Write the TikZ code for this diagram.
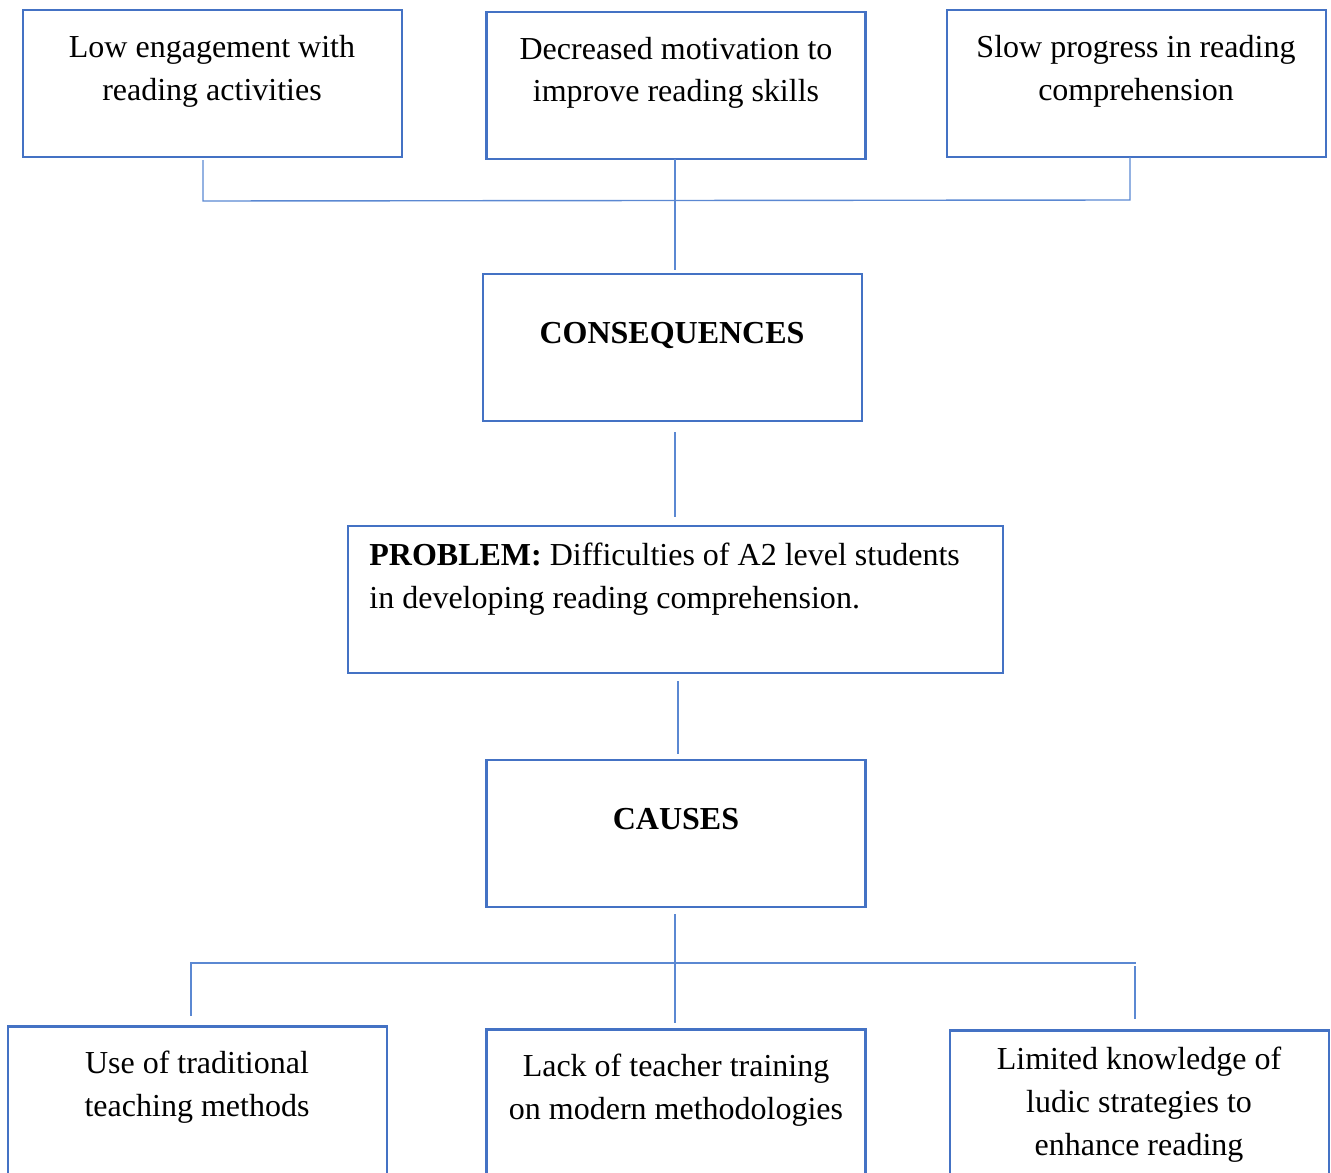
\documentclass[tikz,border=0pt]{standalone}
\usepackage{fontspec}
\setmainfont{Liberation Serif}
\definecolor{boxblue}{HTML}{4472C4}
\definecolor{linkblue}{HTML}{5B88D2}
\begin{document}
\begin{tikzpicture}[x=0.5pt,y=-0.5pt,
  box/.style={draw=boxblue,line width=1.4pt,rectangle,inner sep=0pt,
    minimum width=189.5pt,minimum height=73.5pt},
  lowbox/.style={box,minimum height=85pt},
  label/.style={align=center,inner sep=0pt,anchor=base,
    font=\fontsize{16}{21.3}\selectfont},
  link/.style={draw=linkblue,line width=0.7pt}]
\useasboundingbox (0,0) rectangle (1331,1172);
\clip (0,0) rectangle (1331,1172);

% consequences row
\node[box] (c1) at (212.5,83.5) {};
\node[box] (c2) at (676,85.5) {};
\node[box] (c3) at (1136.5,83.5) {};
\node[label] (t1) at (212,100) {Low engagement with\\reading activities};
\node[label] (t2) at (676,102) {Decreased motivation to\\improve reading skills};
\node[label] (t3) at (1136,100) {Slow progress in reading\\comprehension};

% central chain
\node[box] (cons) at (672.5,347.5) {};
\node[label,font=\fontsize{16}{21.3}\selectfont\bfseries] (tcons) at (672,343) {CONSEQUENCES};
\node[box,minimum width=327.5pt] (prob) at (675.5,599.5) {};
\node[label,align=left,anchor=base west] (tprob) at (369,608)
  {\textbf{PROBLEM:} Difficulties of A2 level students\\in developing reading comprehension.};
\node[box] (causes) at (676,833.5) {};
\node[label,font=\fontsize{16}{21.3}\selectfont\bfseries] (tcauses) at (676,829) {CAUSES};

% causes row (boxes run past the lower edge)
\node[lowbox,anchor=north] (k1) at (197.5,1025) {};
\node[lowbox,anchor=north] (k2) at (676,1028) {};
\node[lowbox,anchor=north] (k3) at (1139.5,1029) {};
\node[label] (u1) at (197,1116) {Use of traditional\\teaching methods};
\node[label] (u2) at (676,1119) {Lack of teacher training\\on modern methodologies};
\node[label] (u3) at (1139,1155) {Limited knowledge of\\ludic strategies to\\enhance reading};

% upper connector tree
\coordinate (a1) at (203,160);
\coordinate (a2) at (203,201);
\coordinate (a3) at (1130,200);
\coordinate (a4) at (1130,157);
\coordinate (m1) at (675,159);
\coordinate (m2) at (675,270);
\draw[link] (a1) -- (a2) -- (a3) -- (a4);
\draw[link] (m1) -- (m2);

% central links
\coordinate (p1) at (675,432);
\coordinate (p2) at (675,517);
\draw[link] (p1) -- (p2);
\coordinate (q1) at (678,681);
\coordinate (q2) at (678,754);
\draw[link] (q1) -- (q2);

% lower connector tree
\coordinate (r1) at (675,914);
\coordinate (r2) at (675,1023);
\draw[link] (r1) -- (r2);
\coordinate (b1) at (191,1016);
\coordinate (b2) at (191,963);
\coordinate (b3) at (1136,963);
\coordinate (b4) at (1135,966);
\coordinate (b5) at (1135,1019);
\draw[link] (b1) -- (b2) -- (b3);
\draw[link] (b4) -- (b5);
\end{tikzpicture}
\end{document}
